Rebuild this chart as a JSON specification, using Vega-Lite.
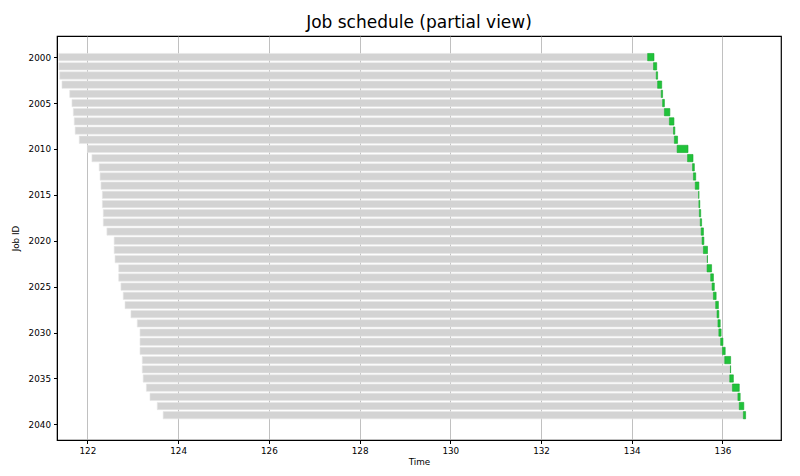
{
  "$schema": "https://vega.github.io/schema/vega-lite/v6.json",
  "autosize": "none",
  "width": 724,
  "height": 404,
  "padding": {"left": 57, "top": 36, "right": 19, "bottom": 36},
  "background": "white",
  "title": {"text": "Job schedule (partial view)", "font": "DejaVu Sans", "fontSize": 17, "fontWeight": "normal", "color": "black", "offset": 4},
  "data": {"values": [
    {"job": 2000, "start": 121.37, "run_start": 134.35, "finish": 134.49},
    {"job": 2001, "start": 121.37, "run_start": 134.48, "finish": 134.55},
    {"job": 2002, "start": 121.39, "run_start": 134.54, "finish": 134.57},
    {"job": 2003, "start": 121.44, "run_start": 134.57, "finish": 134.66},
    {"job": 2004, "start": 121.61, "run_start": 134.65, "finish": 134.68},
    {"job": 2005, "start": 121.66, "run_start": 134.68, "finish": 134.72},
    {"job": 2006, "start": 121.69, "run_start": 134.72, "finish": 134.84},
    {"job": 2007, "start": 121.71, "run_start": 134.83, "finish": 134.93},
    {"job": 2008, "start": 121.73, "run_start": 134.92, "finish": 134.95},
    {"job": 2009, "start": 121.82, "run_start": 134.94, "finish": 135.01},
    {"job": 2010, "start": 122.0, "run_start": 135.0, "finish": 135.24},
    {"job": 2011, "start": 122.1, "run_start": 135.23, "finish": 135.35},
    {"job": 2012, "start": 122.26, "run_start": 135.34, "finish": 135.38},
    {"job": 2013, "start": 122.28, "run_start": 135.36, "finish": 135.41},
    {"job": 2014, "start": 122.3, "run_start": 135.4, "finish": 135.48},
    {"job": 2015, "start": 122.33, "run_start": 135.475, "finish": 135.48},
    {"job": 2016, "start": 122.33, "run_start": 135.48, "finish": 135.5},
    {"job": 2017, "start": 122.35, "run_start": 135.49, "finish": 135.52},
    {"job": 2018, "start": 122.35, "run_start": 135.51, "finish": 135.54},
    {"job": 2019, "start": 122.43, "run_start": 135.53, "finish": 135.58},
    {"job": 2020, "start": 122.59, "run_start": 135.55, "finish": 135.59},
    {"job": 2021, "start": 122.59, "run_start": 135.58, "finish": 135.67},
    {"job": 2022, "start": 122.61, "run_start": 135.665, "finish": 135.67},
    {"job": 2023, "start": 122.69, "run_start": 135.66, "finish": 135.76},
    {"job": 2024, "start": 122.69, "run_start": 135.74, "finish": 135.8},
    {"job": 2025, "start": 122.74, "run_start": 135.77, "finish": 135.82},
    {"job": 2026, "start": 122.79, "run_start": 135.8, "finish": 135.86},
    {"job": 2027, "start": 122.83, "run_start": 135.85, "finish": 135.91},
    {"job": 2028, "start": 122.96, "run_start": 135.88, "finish": 135.92},
    {"job": 2029, "start": 123.1, "run_start": 135.9, "finish": 135.95},
    {"job": 2030, "start": 123.16, "run_start": 135.92, "finish": 135.97},
    {"job": 2031, "start": 123.16, "run_start": 135.96, "finish": 136.01},
    {"job": 2032, "start": 123.16, "run_start": 136.0, "finish": 136.06},
    {"job": 2033, "start": 123.21, "run_start": 136.05, "finish": 136.18},
    {"job": 2034, "start": 123.21, "run_start": 136.175, "finish": 136.18},
    {"job": 2035, "start": 123.23, "run_start": 136.16, "finish": 136.24},
    {"job": 2036, "start": 123.3, "run_start": 136.22, "finish": 136.37},
    {"job": 2037, "start": 123.38, "run_start": 136.34, "finish": 136.39},
    {"job": 2038, "start": 123.54, "run_start": 136.37, "finish": 136.47},
    {"job": 2039, "start": 123.67, "run_start": 136.46, "finish": 136.51}
  ]},
  "encoding": {
    "y": {
      "field": "job", "type": "quantitative", "title": "Job ID",
      "scale": {"domain": [1997.7, 2041.7], "reverse": true, "nice": false, "zero": false, "padding": 0},
      "axis": {"values": [2000, 2005, 2010, 2015, 2020, 2025, 2030, 2035, 2040], "format": "d", "grid": false}
    }
  },
  "layer": [
    {
      "mark": {"type": "bar", "orient": "horizontal", "size": 7.3, "color": "#d3d3d3", "stroke": "#e6e6e6", "strokeWidth": 0.6},
      "encoding": {
        "x": {
          "field": "start", "type": "quantitative", "title": "Time",
          "scale": {"domain": [121.33, 137.29], "nice": false, "zero": false, "padding": 0},
          "axis": {"values": [122, 124, 126, 128, 130, 132, 134, 136], "format": "d", "grid": true}
        },
        "x2": {"field": "run_start"}
      }
    },
    {
      "mark": {"type": "bar", "orient": "horizontal", "size": 7.3, "color": "#20c23a", "stroke": "#17a82e", "strokeWidth": 0.6},
      "encoding": {
        "x": {"field": "run_start", "type": "quantitative"},
        "x2": {"field": "finish"}
      }
    }
  ],
  "config": {
    "view": {"stroke": "black", "strokeWidth": 1.2},
    "axis": {
      "labelFont": "DejaVu Sans", "labelFontSize": 8.8, "labelColor": "black",
      "titleFont": "DejaVu Sans", "titleFontSize": 8.8, "titleFontWeight": "normal", "titleColor": "black",
      "domainColor": "black", "tickColor": "black", "tickSize": 3.5,
      "gridColor": "#b0b0b0", "gridWidth": 0.8, "labelPadding": 3
    },
    "axisX": {"titlePadding": 2},
    "axisY": {"titlePadding": 8}
  }
}
